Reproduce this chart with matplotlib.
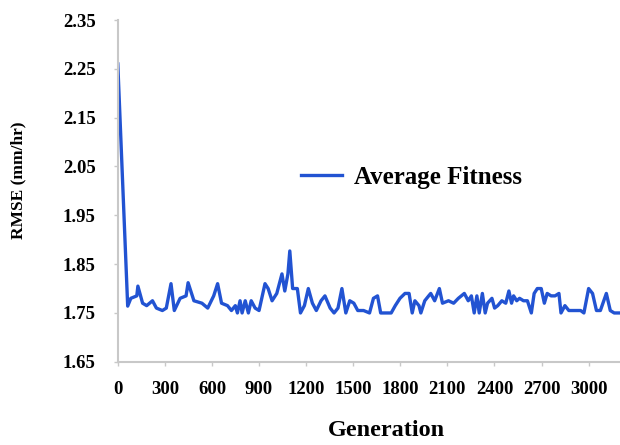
import matplotlib
matplotlib.use("Agg")
import matplotlib.pyplot as plt

# values
generacion = [0, 63, 83, 121, 128, 158, 184, 221, 246, 284, 309, 339, 360, 397,
              435, 448, 485, 536, 573, 611, 636, 661, 699, 724, 749, 762, 779,
              792, 812, 832, 850, 875, 900, 938, 958, 983, 1013, 1046, 1064,
              1084, 1096, 1114, 1144, 1164, 1189, 1214, 1240, 1265, 1295, 1320,
              1353, 1378, 1403, 1428, 1453, 1478, 1504, 1529, 1566, 1604, 1629,
              1655, 1675, 1705, 1742, 1768, 1798, 1830, 1856, 1876, 1893, 1919,
              1931, 1956, 1981, 1994, 2019, 2049, 2069, 2107, 2140, 2170, 2208,
              2233, 2253, 2271, 2288, 2303, 2323, 2341, 2356, 2384, 2401, 2421,
              2447, 2472, 2492, 2509, 2522, 2542, 2560, 2585, 2610, 2635, 2653,
              2673, 2698, 2718, 2736, 2761, 2786, 2811, 2824, 2849, 2874, 2912,
              2949, 2970, 3000, 3025, 3050, 3075, 3113, 3138, 3163, 3196]
rmse = [2.26, 1.764, 1.78, 1.785, 1.805, 1.77, 1.765, 1.775, 1.76, 1.755, 1.76,
        1.81, 1.755, 1.78, 1.785, 1.812, 1.775, 1.77, 1.76, 1.785, 1.81, 1.77,
        1.765, 1.755, 1.765, 1.75, 1.775, 1.75, 1.775, 1.75, 1.775, 1.76, 1.755,
        1.81, 1.80, 1.775, 1.79, 1.83, 1.795, 1.83, 1.877, 1.80, 1.80, 1.75,
        1.765, 1.80, 1.77, 1.755, 1.775, 1.785, 1.76, 1.75, 1.76, 1.80, 1.75,
        1.775, 1.77, 1.755, 1.755, 1.75, 1.78, 1.785, 1.75, 1.75, 1.75, 1.765,
        1.78, 1.79, 1.79, 1.75, 1.775, 1.765, 1.75, 1.775, 1.785, 1.79, 1.775,
        1.80, 1.77, 1.775, 1.77, 1.78, 1.79, 1.775, 1.785, 1.75, 1.785, 1.75,
        1.79, 1.75, 1.77, 1.78, 1.76, 1.765, 1.775, 1.77, 1.795, 1.77, 1.785,
        1.775, 1.78, 1.775, 1.775, 1.75, 1.79, 1.80, 1.80, 1.77, 1.79, 1.785,
        1.785, 1.79, 1.75, 1.765, 1.755, 1.755, 1.755, 1.75, 1.80, 1.79, 1.755,
        1.755, 1.79, 1.755, 1.75, 1.75]

x_ticks = list(range(0, 3001, 300))
y_ticks = [1.65, 1.75, 1.85, 1.95, 2.05, 2.15, 2.25, 2.35]

plt.rcParams["font.family"] = ["Liberation Serif", "DejaVu Serif"]
plt.rcParams["font.weight"] = "bold"

fig = plt.figure(figsize=(6.2, 4.45), dpi=100)
ax = fig.add_axes([0.19, 0.187, 0.81, 0.768])

ax.plot(generacion, rmse, color="#2253d2", linewidth=2.4, label="Average Fitness")

ax.set_xlim(0, 3200)
ax.set_ylim(1.65, 2.35)
ax.set_xticks(x_ticks)
ax.set_yticks(y_ticks)
ax.set_yticklabels([f"{v:.2f}" for v in y_ticks])

for lado in ["top", "right"]:
    ax.spines[lado].set_visible(False)
for lado in ["left", "bottom"]:
    ax.spines[lado].set_color("#c8c8c8")
    ax.spines[lado].set_linewidth(1.5)
ax.tick_params(axis="both", colors="#c8c8c8", labelcolor="black", labelsize=13.5,
               length=3, width=1)
ax.tick_params(axis="x", pad=11)
ax.tick_params(axis="y", pad=13)
for t in ax.get_xticklabels() + ax.get_yticklabels():
    t.set_fontweight("bold")

ax.set_xlabel("Generation", fontsize=17.5, fontweight="bold")
ax.xaxis.set_label_coords(0.534, -0.17)
ax.set_ylabel("RMSE (mm/hr)", fontsize=12.5, fontweight="bold")
ax.yaxis.set_label_coords(-0.183, 0.53)

leg = ax.legend(loc="center left", bbox_to_anchor=(0.345, 0.54), frameon=False,
                prop={"size": 18, "weight": "bold"}, handlelength=1.65,
                handletextpad=0.45, borderaxespad=0)

fig.savefig("out.png", dpi=100)
